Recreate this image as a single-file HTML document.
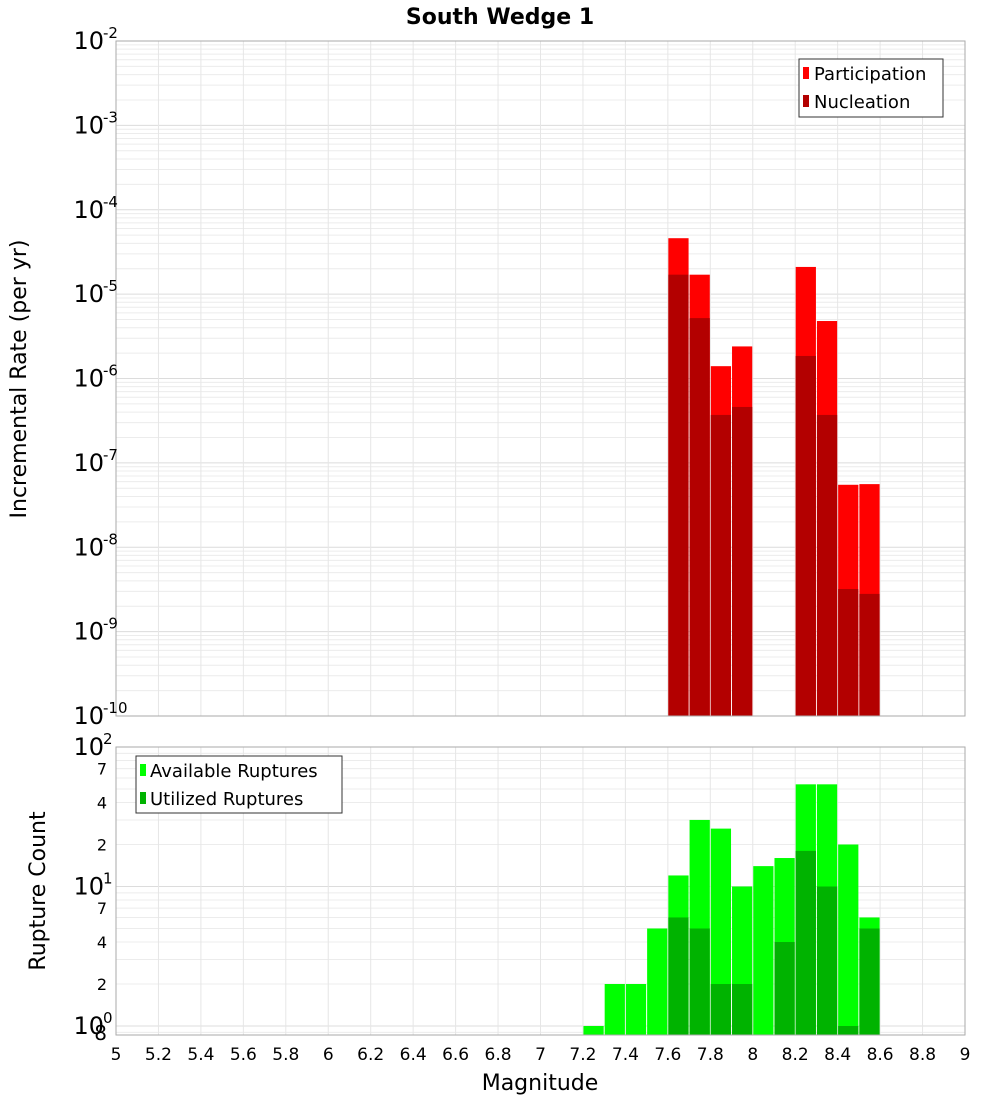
<!DOCTYPE html>
<html><head><meta charset="utf-8"><style>
body{margin:0;background:#fff}
svg{font-family:"DejaVu Sans","Liberation Sans",sans-serif}
</style></head><body>
<svg id="c" width="1000" height="1100" xmlns="http://www.w3.org/2000/svg"></svg>
<script>
const bins=[7.25,7.35,7.45,7.55,7.65,7.75,7.85,7.95,8.05,8.15,8.25,8.35,8.45,8.55];
const partBins=[7.65,7.75,7.85,7.95,8.25,8.35,8.45,8.55];
const participation=[4.6e-5,1.7e-5,1.4e-6,2.4e-6,2.1e-5,4.8e-6,5.5e-8,5.6e-8];
const nucleation=[1.7e-5,5.2e-6,3.7e-7,4.6e-7,1.85e-6,3.7e-7,3.2e-9,2.8e-9];
const available=[1,2,2,5,12,30,26,10,14,16,54,54,20,6];
const utilized=[0,0,0,0,6,5,2,2,0,4,18,10,1,5];
const xTicks=[5,5.2,5.4,5.6,5.8,6,6.2,6.4,6.6,6.8,7,7.2,7.4,7.6,7.8,8,8.2,8.4,8.6,8.8,9];
const topExps=[-2,-3,-4,-5,-6,-7,-8,-9,-10];
const botLabels=[[100,"10","2"],[70,"7"],[40,"4"],[20,"2"],[10,"10","1"],[7,"7"],[4,"4"],[2,"2"],[1,"10","0"]];

const svg=document.getElementById('c');const NS='http://www.w3.org/2000/svg';
function mk(t,a,p,txt){const e=document.createElementNS(NS,t);for(const k in a)e.setAttribute(k,a[k]);if(txt!==undefined)e.textContent=txt;(p||svg).appendChild(e);return e;}
const L=116,R=965;
const x=v=>L+(v-5)/4*(R-L);
const T={t:41,b:716,lo:-10,hi:-2};
const yT=v=>T.t+(T.hi-Math.log10(v))/(T.hi-T.lo)*(T.b-T.t);
const B={t:747,b:1035,lo:Math.log10(0.862),hi:2};
const yB=v=>B.t+(B.hi-Math.log10(Math.max(v,0.862)))/(B.hi-B.lo)*(B.b-B.t);
const bw=(R-L)/40;

let t=mk('text',{x:500,y:24,'text-anchor':'middle','font-size':22,'font-weight':'bold'},svg,'South Wedge 1');


function grid(g,top,bot,yf,lo,hi){
  for(let e=lo;e<hi;e++)for(let m=1;m<10;m++){const v=m*Math.pow(10,e);const yy=yf(v);if(yy<top-0.1||yy>bot+0.1)continue;
    mk('line',{x1:L,x2:R,y1:yy,y2:yy,stroke:m==1?'#dcdcdc':'#ececec','stroke-width':1},g);}
  xTicks.forEach(v=>mk('line',{x1:x(v),x2:x(v),y1:top,y2:bot,stroke:'#e6e6e6'},g));
}
// top panel
const gT=mk('g',{});
grid(gT,T.t,T.b,yT,-10,-2);
partBins.forEach((b,i)=>{
  let r=mk('rect',{x:x(b-0.05)+0.5,y:yT(participation[i]),width:bw-1,height:T.b-yT(participation[i]),fill:'#ff0000'},gT);
  
  r=mk('rect',{x:x(b-0.05)+0.5,y:yT(nucleation[i]),width:bw-1,height:T.b-yT(nucleation[i]),fill:'#b30000'},gT);
  
});
mk('rect',{x:L,y:T.t,width:R-L,height:T.b-T.t,fill:'none',stroke:'#aaa'},gT);
topExps.forEach(e=>{const yy=yT(Math.pow(10,e));
  const tx=mk('text',{x:104,y:yy+8,'text-anchor':'end','font-size':24},gT,'10');
  
  mk('text',{x:103,y:yy-3,'font-size':15},gT,String(e));
});
t=mk('text',{transform:'translate(26,379) rotate(-90)','text-anchor':'middle','font-size':22},svg,'Incremental Rate (per yr)');

// top legend
const lg=mk('g',{});
mk('rect',{x:799,y:59,width:144,height:58,fill:'#fff',stroke:'#333'},lg);
mk('rect',{x:803,y:67,width:6,height:12,fill:'#ff0000'},lg);
mk('text',{x:814,y:80,'font-size':18},lg,'Participation');
mk('rect',{x:803,y:95,width:6,height:12,fill:'#b30000'},lg);
mk('text',{x:814,y:108,'font-size':18},lg,'Nucleation');

// bottom panel
const gB=mk('g',{});
grid(gB,B.t,B.b,yB,-1,2);
bins.forEach((b,i)=>{
  let r=mk('rect',{x:x(b-0.05)+0.5,y:yB(available[i]),width:bw-1,height:B.b-yB(available[i]),fill:'#00ff00'},gB);
  
  if(utilized[i]>0){r=mk('rect',{x:x(b-0.05)+0.5,y:yB(utilized[i]),width:bw-1,height:B.b-yB(utilized[i]),fill:'#00b300'},gB);
  }
});
mk('rect',{x:L,y:B.t,width:R-L,height:B.b-B.t,fill:'none',stroke:'#aaa'},gB);
botLabels.forEach(a=>{const yy=yB(a[0]);
  if(a.length==3){mk('text',{x:104,y:yy+8,'text-anchor':'end','font-size':24},gB,a[1]);mk('text',{x:103,y:yy-3,'font-size':15},gB,a[2]);}
  else mk('text',{x:107,y:yy+6,'text-anchor':'end','font-size':16},gB,a[1]);
});
mk('text',{x:107,y:1040,'text-anchor':'end','font-size':20},gB,'8');
t=mk('text',{transform:'translate(45,891) rotate(-90)','text-anchor':'middle','font-size':22},svg,'Rupture Count');

const lb=mk('g',{});
mk('rect',{x:136,y:756,width:206,height:57,fill:'#fff',stroke:'#333'},lb);
mk('rect',{x:140,y:764,width:6,height:12,fill:'#00ff00'},lb);
mk('text',{x:150,y:777,'font-size':18},lb,'Available Ruptures');
mk('rect',{x:140,y:792,width:6,height:12,fill:'#00b300'},lb);
mk('text',{x:150,y:805,'font-size':18},lb,'Utilized Ruptures');
// x axis
xTicks.forEach(v=>{const tx=mk('text',{x:x(v),y:1060,'text-anchor':'middle','font-size':17},svg,String(v));
  });
t=mk('text',{x:540,y:1090,'text-anchor':'middle','font-size':22},svg,'Magnitude');

</script>
</body></html>
